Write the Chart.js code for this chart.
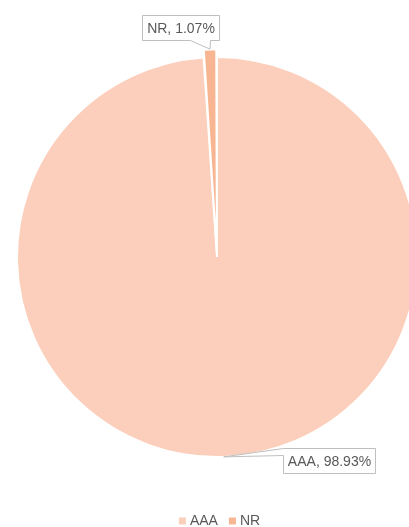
<!DOCTYPE html>
<html>
<head>
<meta charset="utf-8">
<script src="https://cdn.jsdelivr.net/npm/chart.js@4/dist/chart.umd.min.js"></script>
<style>
  html, body { margin: 0; padding: 0; background: #fff; overflow: hidden; }
  #wrap { position: relative; width: 409px; height: 527px; }
</style>
</head>
<body>
<div id="wrap"><canvas id="pie"></canvas></div>
<script>
  // Ripartizione per rating
  const ratings = ['AAA', 'NR'];
  const shares = [98.93, 1.07];

  const FONT = '"Liberation Sans", Arial, sans-serif';
  const TXT = '#595959';

  /* Etichette a fumetto: box bianco con bordo grigio e coda verso la fetta. */
  const callouts = {
    id: 'callouts',
    afterDatasetsDraw(chart, args, opts) {
      const { ctx } = chart;
      const meta = chart.getDatasetMeta(0);
      const data = chart.data.datasets[0].data;
      ctx.save();
      ctx.font = '14px ' + FONT;
      meta.data.forEach((arc, i) => {
        const c = opts.boxes[i];
        const { x, y, startAngle, endAngle, outerRadius } =
          arc.getProps(['x', 'y', 'startAngle', 'endAngle', 'outerRadius'], true);
        const mid = (startAngle + endAngle) / 2;
        const rr = outerRadius + (arc.options.offset || 0) / 2;
        const tx = x + Math.cos(mid) * rr, ty = y + Math.sin(mid) * rr;
        const text = chart.data.labels[i] + ', ' + data[i].toFixed(2) + '%';
        const w = Math.round(ctx.measureText(text).width + 9), h = 25;
        const l = Math.round(tx + c.dx - w / 2) + .5, t = Math.round(ty + c.dy - h / 2) + .5;
        const r = l + w, b = t + h;
        ctx.beginPath();
        ctx.moveTo(l, t); ctx.lineTo(r, t); ctx.lineTo(r, b);
        if (c.side === 'bottom') {
          ctx.lineTo(Math.round(tx + c.to) + .5, b);
          ctx.lineTo(tx, ty);
          ctx.lineTo(Math.round(tx + c.from) + .5, b);
          ctx.lineTo(l, b);
        } else {
          ctx.lineTo(l, b);
          ctx.lineTo(l, t + c.to);
          ctx.lineTo(tx, ty);
          ctx.lineTo(l, t + c.from);
        }
        ctx.closePath();
        ctx.fillStyle = '#fff';
        ctx.fill();
        ctx.strokeStyle = '#bfbfbf';
        ctx.lineWidth = 1;
        ctx.stroke();
        ctx.fillStyle = TXT;
        ctx.textAlign = 'center';
        ctx.textBaseline = 'middle';
        ctx.fillText(text, l + w / 2, t + h / 2 + 1);
      });
      ctx.restore();
    },
  };

  // la legenda va un po' più a destra, centrata sotto la torta
  const legendNudge = {
    id: 'legendNudge',
    afterLayout(chart) {
      if (chart.legend) { chart.legend.left += 4; chart.legend.right += 4; }
    },
  };

  new Chart(document.getElementById('pie'), {
    type: 'pie',
    data: {
      labels: ratings,
      datasets: [{
        data: shares,
        backgroundColor: ['#fbcfbb', '#f8b591'],
        borderColor: '#fff',
        borderWidth: 2,
        offset: [0, 16],
        radius: 200,
        clip: false,
      }],
    },
    options: {
      responsive: true, maintainAspectRatio: false, animation: false,
      layout: { padding: { left: 25, right: 0, top: 14, bottom: -11 } },
      plugins: {
        tooltip: { enabled: false },
        legend: {
          position: 'bottom',
          labels: {
            usePointStyle: true, pointStyle: 'rect', boxWidth: 1, boxHeight: 9,
            padding: 14, color: TXT, font: { family: FONT, size: 14 },
          },
        },
        callouts: {
          boxes: [
            { dx: 105, dy: 3.5, side: 'left', from: 0, to: 7 },
            { dx: -30, dy: -21.5, side: 'bottom', from: -20, to: 0 },
          ],
        },
      },
    },
    plugins: [callouts, legendNudge],
  });
</script>
</body>
</html>
